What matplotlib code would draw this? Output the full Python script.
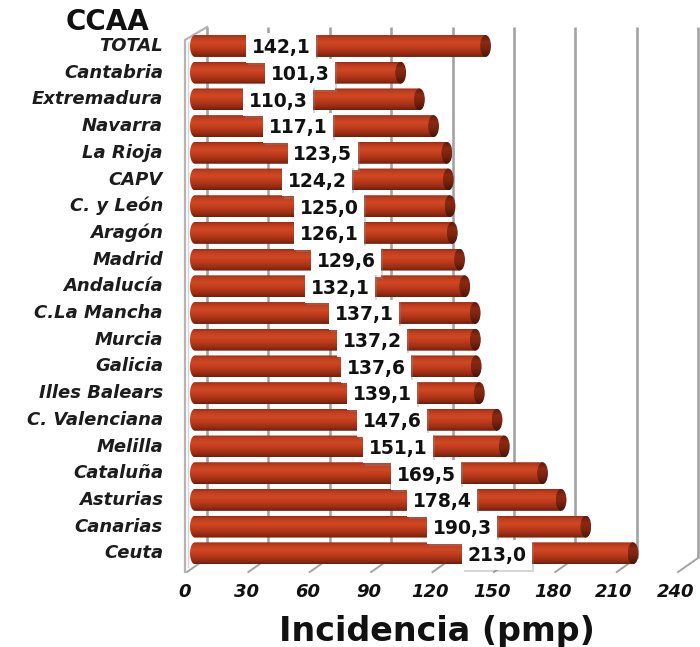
import numpy as np
import matplotlib
matplotlib.use("Agg")
import matplotlib.pyplot as plt
from matplotlib.path import Path
from matplotlib.patches import PathPatch, Ellipse
import matplotlib.patheffects as pe

# ---- data -------------------------------------------------------------
regions = ["TOTAL", "Cantabria", "Extremadura", "Navarra", "La Rioja", "CAPV",
           "C. y León", "Aragón", "Madrid", "Andalucía", "C.La Mancha", "Murcia",
           "Galicia", "Illes Balears", "C. Valenciana", "Melilla", "Cataluña",
           "Asturias", "Canarias", "Ceuta"]
incidence = [142.1, 101.3, 110.3, 117.1, 123.5, 124.2, 125.0, 126.1, 129.6,
             132.1, 137.1, 137.2, 137.6, 139.1, 147.6, 151.1, 169.5, 178.4,
             190.3, 213.0]
x_ticks = [0, 30, 60, 90, 120, 150, 180, 210, 240]

# where each value box sits along its bar (axis units)
label_x = [43.8, 52.9, 42.3, 51.9, 63.9, 61.1, 66.8, 66.8, 75.0, 72.1, 83.7,
           87.5, 89.4, 92.3, 97.1, 100.0, 113.5, 121.2, 130.8, 147.6]

# ---- layout helpers (figure pixels -> axis units) ----------------------
W, H = 700, 647
X0_PX, PX_PER_UNIT = 190.0, 2.08
ROW0_PX, ROW_PX = 46.0, 26.7


def ux(px):
    return (px - X0_PX) / PX_PER_UNIT


def uy(py):
    return (py - ROW0_PX) / ROW_PX


GRID_PX = 2.046                       # depth planes are slightly narrower
def back_x(v):
    return ux(207 + GRID_PX * v)


def front_x(v):
    return ux(187 + GRID_PX * v)


TOP_BACK, BOT_BACK, BOT_FRONT = uy(27), uy(558), uy(572)

fig = plt.figure(figsize=(W / 100, H / 100), dpi=100)
ax = fig.add_axes([0, 0, 1, 1])
ax.axis("off")


def gradient(stops, n=256):
    pos = np.array([s[0] for s in stops])
    cols = np.array([matplotlib.colors.to_rgb(s[1]) for s in stops])
    t = np.linspace(0, 1, n)
    arr = np.stack([np.interp(t, pos, cols[:, k]) for k in range(3)], axis=1)
    return arr[:, None, :]


BAR_GRAD = gradient([(0.0, "#9a2c14"), (0.14, "#c23d1d"), (0.35, "#cf4924"),
                     (0.60, "#bb391a"), (0.85, "#962b13"), (1.0, "#6c1e0b")])
CAP_GRAD = gradient([(0.0, "#5e1909"), (0.3, "#8c2a12"), (0.6, "#7a2410"),
                     (1.0, "#4a1306")])

# ---- back wall grid, floor ticks, side wall ----------------------------
grid_col = "#a3a3a3"
for v in x_ticks:
    ax.plot([back_x(v), back_x(v)], [TOP_BACK, BOT_BACK], color=grid_col,
            lw=1.9, zorder=1, solid_capstyle="butt")
    ax.plot([back_x(v), front_x(v)], [BOT_BACK, BOT_FRONT], color=grid_col,
            lw=1.4, zorder=1)
wall_col = "#b4b4b4"
ax.plot([ux(185), ux(185), back_x(0)], [BOT_FRONT, uy(40), TOP_BACK],
        color=wall_col, lw=1.6, zorder=1)
ax.plot([ux(188), ux(188)], [BOT_FRONT - 0.2, uy(42)], color="#d6d6d6",
        lw=1.0, zorder=1)

# ---- cylinder bars -----------------------------------------------------
h = 0.82
rl = 2.4     # left rounding (axis units)
rc = 2.6     # half width of the end cap
theta = np.linspace(np.pi / 2, 3 * np.pi / 2, 40)
for i, v in enumerate(incidence):
    top, bot = i - h / 2, i + h / 2
    arc_x = rl + rl * np.cos(theta)
    arc_y = i - (h / 2) * np.sin(theta)
    verts = [(rl, top), (v, top), (v, bot), (rl, bot)]
    verts += list(zip(arc_x[::-1], arc_y[::-1]))
    verts += [(rl, top)]
    body = PathPatch(Path(verts, closed=True), fc="none", ec="none")
    ax.add_patch(body)
    im = ax.imshow(BAR_GRAD, extent=(0, v, bot, top), origin="upper",
                   aspect="auto", interpolation="bilinear", zorder=3)
    im.set_clip_path(body)

    cap = Ellipse((v, i), width=2 * rc, height=h, fc="none", ec="none")
    ax.add_patch(cap)
    imc = ax.imshow(CAP_GRAD, extent=(v - rc, v + rc, bot, top),
                    origin="upper", aspect="auto", interpolation="bilinear",
                    zorder=4)
    imc.set_clip_path(cap)

    txt = ax.text(label_x[i], i + 0.07, f"{v:.1f}".replace(".", ","),
                  ha="center", va="center", fontsize=13.5, fontweight="bold",
                  color="#111111", zorder=6,
                  bbox=dict(boxstyle="square,pad=0.3", fc="white",
                            ec="none"))
    txt.get_bbox_patch().set_path_effects(
        [pe.SimplePatchShadow(offset=(1.5, -1.5),
                              shadow_rgbFace=(0.55, 0.55, 0.55), alpha=0.35),
         pe.Normal()])

    ax.text(ux(163), i, regions[i], ha="right", va="center", fontsize=13,
            fontweight="bold", fontstyle="italic", color="#1c1c1c")

# ---- axis texts --------------------------------------------------------
for k, t in enumerate(x_ticks):
    ax.text(ux(185 + 61.3 * k), uy(592), str(t), ha="center", va="center",
            fontsize=13, fontweight="bold", fontstyle="italic",
            color="#111111")

ax.text(ux(108), uy(22), "CCAA", ha="center", va="center", fontsize=20,
        fontweight="bold", color="#111111")
ax.text(ux(437), uy(632), "Incidencia (pmp)", ha="center", va="center",
        fontsize=24, fontweight="bold", color="#111111")

ax.set_xlim(ux(0), ux(W))
ax.set_ylim(uy(H), uy(0))

fig.savefig("out.png", dpi=100)
